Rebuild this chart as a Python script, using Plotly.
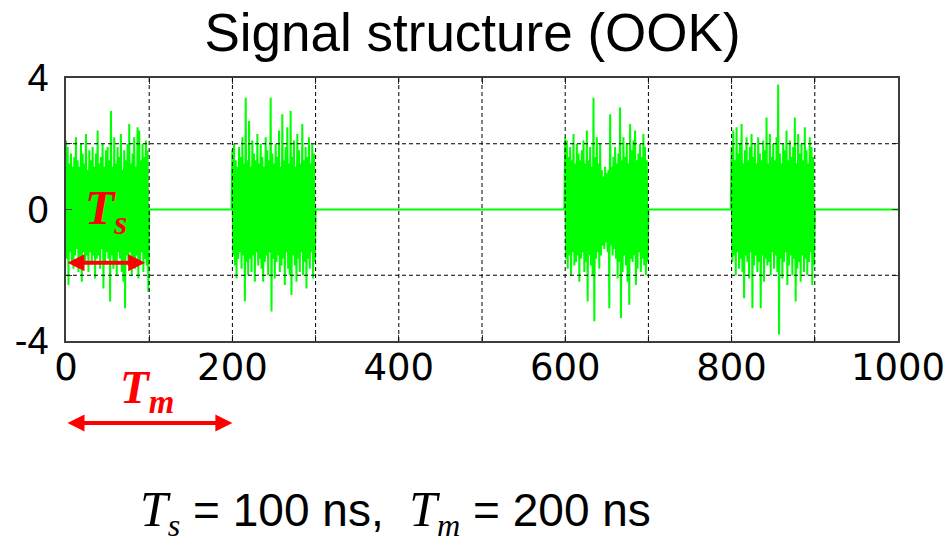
import numpy as np
import plotly.graph_objects as go

# OOK signal: noise bursts of length T_s, slot period T_m
T_s = 100   # ns
T_m = 200   # ns
time_end = 1000
burst_starts = [0, 200, 600, 800]

# sampled burst amplitudes (1 ns spacing)
burst_a = [
    2.1, -1.5, 1.9, -2.3, 1.4, -1.3, 1.7, -1.6, 1.3, -1.8,
    1.6, -1.4, 2.2, -1.2, 1.5, -1.9, 1.3, -1.5, 2.0, -2.2,
    1.7, -1.3, 1.4, -1.6, 2.3, -1.4, 1.2, -1.9, 1.8, -1.3,
    1.5, -1.6, 1.9, -1.4, 1.3, -2.1, 1.7, -1.5, 2.4, -1.4,
    1.4, -1.8, 1.6, -1.2, 2.0, -2.4, 1.3, -1.6, 1.8, -1.3,
    1.9, -1.5, 1.5, -2.8, 3.0, -1.4, 1.3, -1.8, 2.2, -1.6,
    1.4, -2.0, 1.9, -1.3, 1.6, -1.5, 2.3, -1.9, 1.2, -2.2,
    1.8, -3.0, 1.5, -1.4, 2.0, -1.7, 2.6, -1.3, 1.4, -2.0,
    1.7, -1.5, 2.2, -1.8, 1.3, -1.4, 2.5, -2.1, 2.4, -1.6,
    1.5, -1.3, 2.0, -1.9, 1.6, -1.5, 2.1, -1.7, 1.8, -2.5,
]
burst_b = [
    1.8, -1.4, 2.0, -1.7, 1.5, -2.1, 1.3, -1.5, 1.9, -1.3,
    1.6, -1.8, 2.2, -1.4, 1.4, -2.8, 3.4, -1.6, 1.5, -2.0,
    2.7, -1.5, 1.3, -1.9, 2.1, -1.4, 1.7, -2.2, 1.5, -1.3,
    2.3, -1.7, 1.4, -1.5, 2.0, -1.8, 1.6, -2.2, 1.3, -1.6,
    2.2, -1.4, 1.8, -2.0, 1.5, -1.3, 3.4, -3.1, 1.7, -1.5,
    1.4, -2.1, 2.0, -1.6, 1.6, -1.4, 2.4, -1.9, 1.3, -1.7,
    2.9, -1.5, 1.5, -2.3, 1.9, -1.3, 2.5, -1.8, 1.4, -2.0,
    3.0, -2.6, 1.6, -1.4, 2.1, -1.7, 1.3, -2.2, 2.3, -1.5,
    1.8, -1.9, 1.4, -1.3, 2.6, -2.0, 1.5, -1.6, 1.9, -2.4,
    1.6, -1.5, 2.2, -1.8, 1.4, -1.3, 2.0, -2.1, 1.7, -1.6,
]
burst_c = [
    2.2, -1.5, 2.1, -1.8, 1.6, -1.4, 1.9, -2.0, 1.5, -1.3,
    2.3, -1.7, 1.4, -1.6, 2.0, -1.4, 1.7, -2.2, 1.5, -1.5,
    1.8, -1.3, 2.1, -1.9, 1.4, -1.6, 2.4, -2.8, 1.5, -1.4,
    1.9, -1.7, 1.3, -2.0, 3.4, -3.4, 1.6, -1.5, 2.2, -1.3,
    1.4, -1.8, 2.0, -1.4, 1.2, -1.1, 1.0, -1.2, 1.3, -1.0,
    1.1, -1.3, 1.2, -3.0, 2.9, -1.1, 1.3, -1.4, 1.6, -1.2,
    1.9, -1.5, 1.4, -2.1, 1.7, -1.6, 3.1, -3.3, 1.5, -1.9,
    2.2, -1.4, 1.6, -1.7, 2.0, -2.2, 1.4, -2.9, 2.6, -1.5,
    1.8, -1.6, 2.1, -1.4, 2.4, -2.3, 1.5, -1.8, 1.7, -1.3,
    2.0, -1.9, 1.6, -1.5, 2.3, -1.7, 1.9, -2.0, 1.5, -1.6,
]
burst_d = [
    1.9, -1.6, 2.4, -1.4, 1.5, -2.0, 2.5, -1.3, 1.7, -1.8,
    2.0, -1.5, 2.6, -1.9, 1.4, -2.7, 1.8, -1.4, 2.2, -1.6,
    1.5, -2.1, 1.9, -1.3, 2.3, -3.0, 1.6, -1.7, 2.0, -1.4,
    1.4, -1.9, 2.2, -1.6, 1.7, -3.0, 1.5, -1.4, 2.1, -2.2,
    1.8, -1.5, 2.8, -1.7, 1.4, -1.6, 2.3, -2.0, 1.6, -1.3,
    2.0, -1.8, 1.5, -1.4, 2.2, -1.9, 3.8, -3.8, 1.7, -1.5,
    1.4, -2.1, 2.0, -1.6, 1.8, -1.3, 2.4, -2.3, 1.5, -1.7,
    2.1, -1.4, 1.6, -2.0, 1.9, -1.5, 2.8, -2.8, 1.4, -1.8,
    2.3, -1.6, 1.7, -2.2, 2.0, -1.4, 1.5, -1.9, 2.5, -1.5,
    1.8, -2.0, 1.4, -1.6, 2.2, -1.3, 1.9, -2.3, 1.6, -1.7,
]
bursts = [burst_a, burst_b, burst_c, burst_d]

# axis ticks / grid
x_ticks = [0, 100, 200, 300, 400, 500, 600, 700, 800, 900, 1000]
x_ticktext = ["0", "", "200", "", "400", "", "600", "", "800", "", "1000"]
y_ticks = [-4, -2, 0, 2, 4]
y_ticktext = ["-4", "", "0", "", "4"]
x_grid = [100, 200, 300, 400, 500, 600, 700, 800, 900]
y_grid = [-2, 2]

# assemble the full time series (zero between bursts)
t = np.arange(0, time_end + 1)
signal = np.zeros(len(t))
for start, vals in zip(burst_starts, bursts):
    signal[start:start + len(vals)] = vals

SANS = "Liberation Sans, Arial, sans-serif"
SERIF = "Liberation Serif, Times New Roman, serif"
RED = "#ff0000"
FRAME = "#3c3c3c"

fig = go.Figure()
fig.add_trace(go.Scatter(
    x=t, y=signal, mode="lines",
    line=dict(color="#00ff00", width=2),
    hoverinfo="skip", showlegend=False,
))

for v in x_grid:
    fig.add_shape(type="line", xref="x", yref="y domain", x0=v, x1=v, y0=0, y1=1,
                  line=dict(color="black", width=1, dash="4px,3px"), layer="above")
for v in y_grid:
    fig.add_shape(type="line", xref="x domain", yref="y", x0=0, x1=1, y0=v, y1=v,
                  line=dict(color="black", width=1, dash="4px,3px"), layer="above")

# T_s marker inside the plot
ts_y = -1.62
fig.add_annotation(
    x=T_s, y=ts_y, ax=0, ay=ts_y, xref="x", yref="y", axref="x", ayref="y",
    text="", showarrow=True, arrowside="end+start",
    arrowhead=2, startarrowhead=2, arrowsize=0.85, startarrowsize=0.85,
    arrowwidth=4, arrowcolor=RED, standoff=4, startstandoff=0,
)
fig.add_annotation(
    x=20, y=-0.05, xref="x", yref="y", xanchor="left", yanchor="middle",
    text="<b><i>T<sub>s</sub></i></b>", showarrow=False,
    font=dict(family=SERIF, size=48, color=RED),
)

# T_m marker below the axis
tm_y = -0.312
fig.add_annotation(
    x=T_m, y=tm_y, ax=0, ay=0, xref="x", yref="paper", axref="x", ayref="pixel",
    text="", showarrow=True, arrowside="end+start",
    arrowhead=2, startarrowhead=2, arrowsize=0.85, startarrowsize=0.85,
    arrowwidth=4, arrowcolor=RED, standoff=0, startstandoff=0,
)
fig.add_annotation(
    x=62, y=-0.19, xref="x", yref="paper", xanchor="left", yanchor="middle",
    text="<b><i>T<sub>m</sub></i></b>", showarrow=False,
    font=dict(family=SERIF, size=47, color=RED),
)

# parameter summary
T_html = '<span style="font-family:Liberation Serif;font-size:50px"><i>T</i></span>'
fig.add_annotation(
    x=0.396, y=-0.65, xref="paper", yref="paper", xanchor="center", yanchor="middle",
    text=(f'{T_html}<sub><span style="font-family:Liberation Serif"><i>s</i></span></sub>'
          f' = {T_s} ns,&nbsp;&nbsp;{T_html}'
          f'<sub><span style="font-family:Liberation Serif"><i>m</i></span></sub>'
          f' = {T_m} ns'),
    showarrow=False,
    font=dict(family=SANS, size=46, color="black"),
)

fig.update_layout(
    width=945, height=542,
    margin=dict(l=66, r=47, t=78, b=201, autoexpand=False),
    paper_bgcolor="white", plot_bgcolor="white",
    title=dict(text="Signal structure (OOK)", x=0.5, xref="container", xanchor="center",
               y=1 - 14 / 542, yref="container", yanchor="top",
               font=dict(family=SANS, size=53, color="black")),
    xaxis=dict(range=[0, time_end], tickvals=x_ticks, ticktext=x_ticktext,
               showgrid=False, zeroline=False, showline=True, mirror="ticks",
               linecolor=FRAME, linewidth=1.5, ticks="inside", ticklen=6,
               tickcolor=FRAME, tickwidth=1, ticklabelstandoff=-7,
               ticklabeloverflow="allow",
               tickfont=dict(family="DejaVu Sans", size=37, color="black"),
               automargin=False),
    yaxis=dict(range=[-4, 4], tickvals=y_ticks, ticktext=y_ticktext,
               showgrid=False, zeroline=False, showline=True, mirror="ticks",
               linecolor=FRAME, linewidth=1.5, ticks="inside", ticklen=6,
               tickcolor=FRAME, tickwidth=1, ticklabelstandoff=8,
               tickfont=dict(family=SANS, size=38, color="black"),
               automargin=False),
)

fig.write_html("out.html", config={"displayModeBar": False})
